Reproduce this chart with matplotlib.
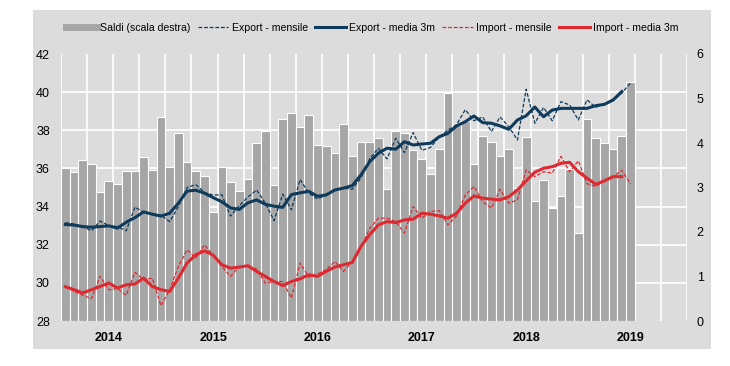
import numpy as np
import matplotlib
matplotlib.use("Agg")
import matplotlib.pyplot as plt
from matplotlib import font_manager
from matplotlib.lines import Line2D
from matplotlib.patches import Rectangle
from matplotlib.transforms import blended_transform_factory

# monthly data, Aug 2013 - Jan 2019
months = np.arange(66)
year_pos = [5, 17, 29, 41, 53, 65]
year_labels = ["2014", "2015", "2016", "2017", "2018", "2019"]

saldi = [3.44, 3.34, 3.62, 3.52, 2.89, 3.14, 3.07, 3.36, 3.38, 3.69, 3.39, 4.58,
         3.47, 4.22, 3.57, 3.36, 3.26, 2.46, 3.45, 3.13, 2.93, 3.20, 3.99, 4.28,
         3.05, 4.55, 4.67, 4.37, 4.62, 3.96, 3.94, 3.77, 4.42, 3.70, 4.02, 4.02,
         4.12, 2.97, 4.28, 4.22, 3.84, 3.63, 3.31, 3.86, 5.13, 4.40, 4.50, 3.52,
         4.16, 4.02, 3.71, 3.87, 2.98, 4.14, 2.70, 3.16, 2.53, 2.82, 3.42, 1.97,
         4.53, 4.12, 4.01, 3.86, 4.16, 5.36]

export_m = [33.16, 33.08, 32.95, 32.73, 33.24, 33.00, 32.95, 32.73, 33.97, 33.70, 33.60, 33.55,
            33.21, 34.00, 35.00, 35.15, 34.75, 34.60, 34.62, 33.50, 34.05, 34.50, 34.87, 34.18,
            33.26, 34.65, 33.83, 35.42, 34.70, 34.40, 34.61, 34.87, 34.96, 34.91, 35.50, 36.50,
            37.06, 36.50, 37.58, 36.83, 37.88, 36.95, 37.10, 37.66, 38.00, 38.30, 39.08, 38.50,
            38.70, 37.93, 38.70, 38.19, 37.49, 40.15, 38.37, 39.20, 38.50, 39.50, 39.33, 38.54,
            39.60, 39.20, 39.41, 39.55, 39.95, 40.48]

export_3m = [33.06, 33.03, 32.95, 32.92, 32.95, 32.99, 32.87, 33.18, 33.42, 33.72, 33.60, 33.50,
             33.65, 34.18, 34.81, 34.86, 34.70, 34.47, 34.25, 33.93, 33.85, 34.20, 34.35, 34.12,
             34.02, 33.96, 34.63, 34.72, 34.80, 34.54, 34.61, 34.87, 34.97, 35.10, 35.66, 36.35,
             36.80, 37.06, 37.01, 37.40, 37.23, 37.28, 37.32, 37.66, 37.84, 38.23, 38.45, 38.75,
             38.40, 38.37, 38.23, 38.05, 38.54, 38.76, 39.22, 38.71, 39.06, 39.15, 39.15, 39.15,
             39.15, 39.29, 39.36, 39.59, 40.03]

import_m = [29.81, 29.55, 29.35, 29.17, 30.34, 29.64, 29.70, 29.35, 30.56, 30.16, 30.25, 28.80,
            29.64, 30.86, 31.73, 31.30, 31.99, 31.45, 30.86, 30.34, 30.86, 30.86, 30.72, 29.99,
            30.07, 30.07, 29.20, 31.04, 30.30, 30.46, 30.69, 31.12, 30.60, 31.12, 31.85, 32.85,
            33.39, 33.39, 33.21, 32.61, 34.00, 33.39, 33.74, 33.79, 33.04, 33.51, 34.61, 35.05,
            34.26, 33.92, 34.91, 34.18, 34.35, 35.92, 35.57, 35.83, 35.75, 36.63, 35.83, 36.40,
            35.20, 35.05, 35.35, 35.57, 35.90, 35.18]

import_3m = [29.80, 29.64, 29.47, 29.64, 29.81, 29.99, 29.73, 29.90, 29.94, 30.25, 29.81, 29.64,
             29.55, 30.25, 31.04, 31.47, 31.68, 31.45, 30.95, 30.77, 30.83, 30.90, 30.60, 30.34,
             30.07, 29.86, 30.07, 30.21, 30.42, 30.34, 30.60, 30.83, 30.95, 31.07, 31.91, 32.52,
             33.04, 33.21, 33.16, 33.30, 33.34, 33.65, 33.60, 33.51, 33.39, 33.65, 34.18, 34.56,
             34.44, 34.39, 34.35, 34.52, 34.87, 35.35, 35.80, 36.01, 36.09, 36.27, 36.32, 35.83,
             35.49, 35.17, 35.35, 35.57, 35.57]

names = {f.name for f in font_manager.fontManager.ttflist}
font = "Liberation Sans Narrow" if "Liberation Sans Narrow" in names else "Liberation Sans"
plt.rcParams["font.family"] = [font, "DejaVu Sans"]

bg = "#dcdcdc"
bar_col = "#a6a6a6"
navy = "#0e3a5c"
red = "#dd2a30"

fig = plt.figure(figsize=(7.3, 3.66), dpi=100)
fig.patch.set_facecolor("white")
panel = Rectangle((33 / 730, 17 / 366), 678 / 730, 339 / 366,
                  transform=fig.transFigure, facecolor=bg, edgecolor="none", zorder=-10)
fig.add_artist(panel)

ax = fig.add_axes([61 / 730, 45 / 366, 626 / 730, 267 / 366])
ax.set_facecolor(bg)
ax.bar(months, saldi, width=1.0, color=bar_col, edgecolor="white", linewidth=0.8, zorder=2)
ax.set_ylim(0, 6)
ax.set_xlim(-0.5, 71.5)

ax2 = ax.twinx()
ax.yaxis.tick_right()
ax.set_yticks(range(0, 7))
ax2.yaxis.tick_left()
ax2.set_ylim(28, 42)
ax2.set_yticks(range(28, 43, 2))

# gridlines behind the bars
trans = blended_transform_factory(ax.transAxes, ax2.transData)
for v in range(30, 42, 2):
    ax.plot([0, 1], [v, v], transform=trans, color="white", lw=1.2, zorder=1)
ax.set_xticks(np.arange(-0.5, 72, 3), minor=True)
ax.grid(which="minor", axis="x", color="white", lw=1.2, zorder=1)
ax.set_axisbelow(True)

ax2.plot(months, export_m, color=navy, lw=0.9, ls=(0, (3, 1.5)))
ax2.plot(months[:65], export_3m, color=navy, lw=2.2)
ax2.plot(months, import_m, color=red, lw=0.9, ls=(0, (3, 1.5)))
ax2.plot(months[:65], import_3m, color=red, lw=2.2)

ax.set_xticks(year_pos)
ax.set_xticklabels(year_labels, fontweight="bold", fontsize=9)
for a in (ax, ax2):
    a.tick_params(which="both", length=0, labelsize=9)
    for s in a.spines.values():
        s.set_visible(False)
ax.tick_params(axis="x", pad=8)
ax.tick_params(axis="y", pad=7)
ax2.tick_params(axis="y", pad=8)

handles = [
    Line2D([], [], color=bar_col, lw=5),
    Line2D([], [], color=navy, lw=0.9, ls=(0, (3, 1.5))),
    Line2D([], [], color=navy, lw=2.2),
    Line2D([], [], color=red, lw=0.9, ls=(0, (3, 1.5))),
    Line2D([], [], color=red, lw=2.2),
]
labels = ["Saldi (scala destra)", "Export - mensile", "Export - media 3m",
          "Import - mensile", "Import - media 3m"]
fig.legend(handles, labels, loc="center", bbox_to_anchor=(0.51, 1 - 28 / 366), ncol=5,
           frameon=False, fontsize=7.6, handlelength=2.9, columnspacing=0.7, handletextpad=0.3)

fig.savefig("out.png", dpi=100, facecolor=fig.get_facecolor())
